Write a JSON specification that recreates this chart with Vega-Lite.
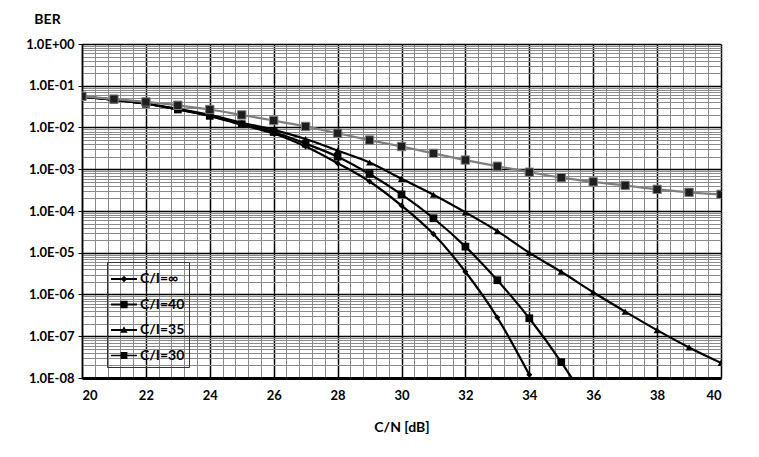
{
  "$schema": "https://vega.github.io/schema/vega-lite/v6.json",
  "width": 639,
  "height": 334,
  "autosize": {"type": "none"},
  "padding": {"left": 82, "top": 44, "right": 38, "bottom": 79},
  "background": "white",
  "config": {
    "view": {"stroke": null},
    "font": "Lato",
    "axis": {"labelFont": "Lato", "titleFont": "Lato", "labelFontWeight": "bold", "titleFontWeight": "bold", "labelColor": "black", "titleColor": "black"},
    "legend": {"labelFont": "Lato", "labelFontWeight": "bold"}
  },
  "data": {
    "values": [
      {"cn": 20, "ber": 0.055, "series": "C/I=∞"},
      {"cn": 21, "ber": 0.046, "series": "C/I=∞"},
      {"cn": 22, "ber": 0.037, "series": "C/I=∞"},
      {"cn": 23, "ber": 0.027, "series": "C/I=∞"},
      {"cn": 24, "ber": 0.019, "series": "C/I=∞"},
      {"cn": 25, "ber": 0.0115, "series": "C/I=∞"},
      {"cn": 26, "ber": 0.0072, "series": "C/I=∞"},
      {"cn": 27, "ber": 0.0035, "series": "C/I=∞"},
      {"cn": 28, "ber": 0.0014, "series": "C/I=∞"},
      {"cn": 29, "ber": 0.00051, "series": "C/I=∞"},
      {"cn": 30, "ber": 0.000135, "series": "C/I=∞"},
      {"cn": 31, "ber": 0.000028, "series": "C/I=∞"},
      {"cn": 32, "ber": 0.0000035, "series": "C/I=∞"},
      {"cn": 33, "ber": 0.00000028, "series": "C/I=∞"},
      {"cn": 34, "ber": 0.000000012, "series": "C/I=∞"},
      {"cn": 20, "ber": 0.055, "series": "C/I=40"},
      {"cn": 21, "ber": 0.046, "series": "C/I=40"},
      {"cn": 22, "ber": 0.037, "series": "C/I=40"},
      {"cn": 23, "ber": 0.027, "series": "C/I=40"},
      {"cn": 24, "ber": 0.019, "series": "C/I=40"},
      {"cn": 25, "ber": 0.012, "series": "C/I=40"},
      {"cn": 26, "ber": 0.0078, "series": "C/I=40"},
      {"cn": 27, "ber": 0.0041, "series": "C/I=40"},
      {"cn": 28, "ber": 0.002, "series": "C/I=40"},
      {"cn": 29, "ber": 0.00077, "series": "C/I=40"},
      {"cn": 30, "ber": 0.00025, "series": "C/I=40"},
      {"cn": 31, "ber": 0.000067, "series": "C/I=40"},
      {"cn": 32, "ber": 0.000014, "series": "C/I=40"},
      {"cn": 33, "ber": 0.0000022, "series": "C/I=40"},
      {"cn": 34, "ber": 0.00000027, "series": "C/I=40"},
      {"cn": 35, "ber": 0.000000024, "series": "C/I=40"},
      {"cn": 36, "ber": 0.0000000015, "series": "C/I=40"},
      {"cn": 20, "ber": 0.055, "series": "C/I=35"},
      {"cn": 21, "ber": 0.046, "series": "C/I=35"},
      {"cn": 22, "ber": 0.037, "series": "C/I=35"},
      {"cn": 23, "ber": 0.028, "series": "C/I=35"},
      {"cn": 24, "ber": 0.02, "series": "C/I=35"},
      {"cn": 25, "ber": 0.013, "series": "C/I=35"},
      {"cn": 26, "ber": 0.0088, "series": "C/I=35"},
      {"cn": 27, "ber": 0.0053, "series": "C/I=35"},
      {"cn": 28, "ber": 0.0028, "series": "C/I=35"},
      {"cn": 29, "ber": 0.00145, "series": "C/I=35"},
      {"cn": 30, "ber": 0.00059, "series": "C/I=35"},
      {"cn": 31, "ber": 0.000245, "series": "C/I=35"},
      {"cn": 32, "ber": 0.000093, "series": "C/I=35"},
      {"cn": 33, "ber": 0.000033, "series": "C/I=35"},
      {"cn": 34, "ber": 0.00001, "series": "C/I=35"},
      {"cn": 35, "ber": 0.0000035, "series": "C/I=35"},
      {"cn": 36, "ber": 0.00000113, "series": "C/I=35"},
      {"cn": 37, "ber": 0.00000039, "series": "C/I=35"},
      {"cn": 38, "ber": 0.00000014, "series": "C/I=35"},
      {"cn": 39, "ber": 0.000000054, "series": "C/I=35"},
      {"cn": 40, "ber": 0.000000023, "series": "C/I=35"},
      {"cn": 20, "ber": 0.056, "series": "C/I=30"},
      {"cn": 21, "ber": 0.048, "series": "C/I=30"},
      {"cn": 22, "ber": 0.041, "series": "C/I=30"},
      {"cn": 23, "ber": 0.034, "series": "C/I=30"},
      {"cn": 24, "ber": 0.027, "series": "C/I=30"},
      {"cn": 25, "ber": 0.02, "series": "C/I=30"},
      {"cn": 26, "ber": 0.0147, "series": "C/I=30"},
      {"cn": 27, "ber": 0.0106, "series": "C/I=30"},
      {"cn": 28, "ber": 0.0073, "series": "C/I=30"},
      {"cn": 29, "ber": 0.005, "series": "C/I=30"},
      {"cn": 30, "ber": 0.0035, "series": "C/I=30"},
      {"cn": 31, "ber": 0.0024, "series": "C/I=30"},
      {"cn": 32, "ber": 0.00166, "series": "C/I=30"},
      {"cn": 33, "ber": 0.00118, "series": "C/I=30"},
      {"cn": 34, "ber": 0.00085, "series": "C/I=30"},
      {"cn": 35, "ber": 0.00063, "series": "C/I=30"},
      {"cn": 36, "ber": 0.0005, "series": "C/I=30"},
      {"cn": 37, "ber": 0.00041, "series": "C/I=30"},
      {"cn": 38, "ber": 0.00033, "series": "C/I=30"},
      {"cn": 39, "ber": 0.00028, "series": "C/I=30"},
      {"cn": 40, "ber": 0.00025, "series": "C/I=30"}
    ]
  },
  "encoding": {
    "x": {
      "field": "cn", "type": "quantitative",
      "scale": {"domain": [20, 40], "nice": false, "zero": false},
      "axis": {
        "title": "C/N [dB]", "titleFontSize": 14, "titleY": 49, "titleBaseline": "middle",
        "values": [20,20.4,20.8,21.2,21.6,22,22.4,22.8,23.2,23.6,24,24.4,24.8,25.2,25.6,26,26.4,26.8,27.2,27.6,28,28.4,28.8,29.2,29.6,30,30.4,30.8,31.2,31.6,32,32.4,32.8,33.2,33.6,34,34.4,34.8,35.2,35.6,36,36.4,36.8,37.2,37.6,38,38.4,38.8,39.2,39.6,40],
        "grid": true,
        "gridColor": {"condition": {"test": "abs(datum.value/2 - round(datum.value/2)) < 0.001", "value": "black"}, "value": "#8a8a8a"},
        "gridWidth": {"condition": {"test": "abs(datum.value/2 - round(datum.value/2)) < 0.001", "value": 1.5}, "value": 1},
        "gridOpacity": 1,
        "ticks": false,
        "labelExpr": "abs(datum.value/2 - round(datum.value/2)) < 0.001 ? format(datum.value, '.0f') : ''",
        "labelFontSize": 13, "labelPadding": 17, "labelBaseline": "middle",
        "domain": true, "domainColor": "black", "domainWidth": 3,
        "labelOverlap": false
      }
    },
    "y": {
      "field": "ber", "type": "quantitative",
      "scale": {"type": "log", "domain": [1e-8, 1], "nice": false},
      "axis": {
        "title": "BER", "titleAngle": 0, "titleX": -35, "titleY": -25, "titleAlign": "center", "titleBaseline": "middle", "titleFontSize": 14,
        "values": [1e-8,2e-8,3e-8,4e-8,5e-8,6e-8,7e-8,8e-8,9e-8,1e-7,2e-7,3e-7,4e-7,5e-7,6e-7,7e-7,8e-7,9e-7,1e-6,2e-6,3e-6,4e-6,5e-6,6e-6,7e-6,8e-6,9e-6,1e-5,2e-5,3e-5,4e-5,5e-5,6e-5,7e-5,8e-5,9e-5,1e-4,2e-4,3e-4,4e-4,5e-4,6e-4,7e-4,8e-4,9e-4,1e-3,2e-3,3e-3,4e-3,5e-3,6e-3,7e-3,8e-3,9e-3,1e-2,2e-2,3e-2,4e-2,5e-2,6e-2,7e-2,8e-2,9e-2,0.1,0.2,0.3,0.4,0.5,0.6,0.7,0.8,0.9,1],
        "grid": true,
        "gridColor": {"condition": {"test": "abs(log(datum.value)/LN10 - round(log(datum.value)/LN10)) < 0.001", "value": "black"}, "value": "#8a8a8a"},
        "gridWidth": {"condition": {"test": "abs(log(datum.value)/LN10 - round(log(datum.value)/LN10)) < 0.001", "value": 1.5}, "value": 1},
        "gridOpacity": 1,
        "ticks": true, "tickSize": 4,
        "tickColor": {"condition": {"test": "abs(log(datum.value)/LN10 - round(log(datum.value)/LN10)) < 0.001", "value": "black"}, "value": "transparent"},
        "labelExpr": "abs(log(datum.value)/LN10 - round(log(datum.value)/LN10)) < 0.001 ? '1.0E' + (round(log(datum.value)/LN10) < 0 ? '-' : '+') + (abs(round(log(datum.value)/LN10)) < 10 ? '0' : '') + abs(round(log(datum.value)/LN10)) : ''",
        "labelFontSize": 13, "labelPadding": 4, "labelOverlap": false,
        "domain": true, "domainColor": "black", "domainWidth": 1.5
      }
    }
  },
  "layer": [
    {
      "mark": {"type": "line", "interpolate": "monotone", "clip": true, "strokeWidth": 2.2},
      "encoding": {
        "stroke": {"field": "series", "type": "nominal", "scale": {"domain": ["C/I=∞", "C/I=40", "C/I=35", "C/I=30"], "range": ["black", "black", "black", "#7f7f7f"]}, "legend": null},
        "detail": {"field": "series"}
      }
    },
    {
      "transform": [{"filter": "datum.series === 'C/I=∞'"}],
      "mark": {"type": "point", "shape": "diamond", "size": 36, "filled": true, "color": "black", "clip": true, "opacity": 1}
    },
    {
      "transform": [{"filter": "datum.series === 'C/I=40'"}],
      "mark": {"type": "point", "shape": "square", "size": 60, "filled": true, "color": "black", "clip": true, "opacity": 1}
    },
    {
      "transform": [{"filter": "datum.series === 'C/I=35'"}],
      "mark": {"type": "point", "shape": "triangle-up", "size": 50, "filled": true, "color": "black", "clip": true, "opacity": 1}
    },
    {
      "transform": [{"filter": "datum.series === 'C/I=30'"}],
      "mark": {"type": "point", "shape": "square", "size": 70, "filled": true, "fill": "#1e1e1e", "stroke": "#7f7f7f", "strokeWidth": 1, "clip": true, "opacity": 1}
    },
    {
      "mark": {"type": "point", "filled": true, "color": "black", "stroke": "black", "strokeWidth": 2, "opacity": 0},
      "encoding": {
        "shape": {
          "field": "series", "type": "nominal",
          "scale": {"domain": ["C/I=∞", "C/I=40", "C/I=35", "C/I=30"], "range": ["M-1,-0.075H1V0.075H-1ZM0,-0.25L0.25,0L0,0.25L-0.25,0Z", "M-1,-0.075H1V0.075H-1ZM-0.28,-0.28H0.28V0.28H-0.28Z", "M-1,-0.075H1V0.075H-1ZM0,-0.28L0.28,0.22H-0.28Z", "M-1,-0.06H1V0.06H-1ZM-0.26,-0.26H0.26V0.26H-0.26Z"]},
          "legend": {
            "title": null, "orient": "none", "legendX": 25, "legendY": 218,
            "symbolSize": 676, "labelFontSize": 14, "labelOffset": 3, "rowPadding": 5.5,
            "padding": 4, "strokeColor": "#333333", "symbolStrokeWidth": 0,
            "symbolFillColor": "black", "symbolStrokeColor": "black", "symbolOpacity": 1
          }
        }
      }
    }
  ],
  "resolve": {"scale": {"shape": "independent"}, "legend": {"shape": "independent"}}
}
